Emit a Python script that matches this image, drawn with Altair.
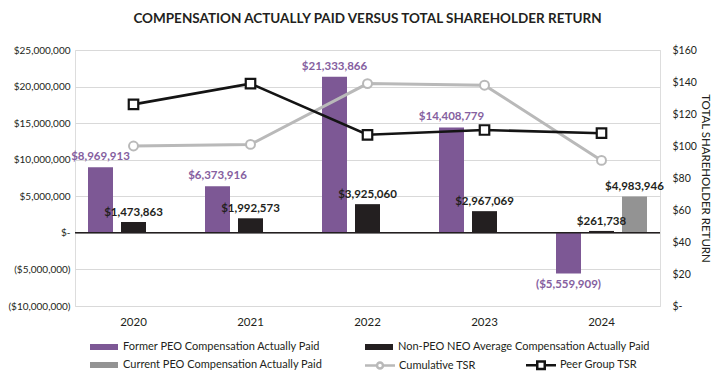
import altair as alt
import pandas as pd

# ---------------- data ----------------
years = ["2020", "2021", "2022", "2023", "2024"]
former_peo = [8969913, 6373916, 21333866, 14408779, -5559909]
non_peo_neo = [1473863, 1992573, 3925060, 2967069, 261738]
current_peo_years = ["2024"]
current_peo = [4983946]
cumulative_tsr = [100, 101, 139, 138, 91]
peer_group_tsr = [126, 139, 107, 110, 108]

S_FORMER = "Former PEO Compensation Actually Paid"
S_NONPEO = "Non-PEO NEO Average Compensation Actually Paid"
S_CURRENT = "Current PEO Compensation Actually Paid"
T_CUM = "Cumulative TSR"
T_PEER = "Peer Group TSR"

bar_series = [S_FORMER, S_NONPEO, S_CURRENT]
tsr_series = [T_CUM, T_PEER]

PURPLE = "#7d5895"
PURPLE_TXT = "#8560a0"
BLACK = "#231f20"
LINE_BLACK = "#141414"
GRAY = "#939393"
LIGHT = "#b9b9b9"
FONT = "Lato"


def money(v):
    s = "${:,}".format(abs(v))
    return f"({s})" if v < 0 else s


rows = []
for y, v in zip(years, former_peo):
    rows.append(dict(year=y, series=S_FORMER, value=v))
for y, v in zip(years, non_peo_neo):
    rows.append(dict(year=y, series=S_NONPEO, value=v))
for y, v in zip(current_peo_years, current_peo):
    rows.append(dict(year=y, series=S_CURRENT, value=v))
bars_df = pd.DataFrame(rows)
bars_df["label"] = bars_df["value"].map(money)

trows = []
for y, v in zip(years, cumulative_tsr):
    trows.append(dict(year=y, tsr=T_CUM, tsr_value=v))
for y, v in zip(years, peer_group_tsr):
    trows.append(dict(year=y, tsr=T_PEER, tsr_value=v))
tsr_df = pd.DataFrame(trows)

zero_df = pd.DataFrame({"value": [0]})

# ---------------- encodings ----------------
x_enc = alt.X(
    "year:N",
    scale=alt.Scale(domain=years, paddingInner=0, paddingOuter=0),
    axis=alt.Axis(title=None, domain=False, ticks=False, labelAngle=0,
                  labelPadding=10, labelFontSize=11.5, labelColor=BLACK,
                  labelFont=FONT),
)
xoff_enc = alt.XOffset(
    "series:N",
    scale=alt.Scale(domain=bar_series, paddingInner=0.2424, paddingOuter=0.394),
)
y_left = alt.Y(
    "value:Q",
    scale=alt.Scale(domain=[-10000000, 25000000], nice=False),
    axis=alt.Axis(
        title=None,
        values=list(range(-10000000, 25000001, 5000000)),
        labelExpr="datum.value == 0 ? '$-' : (datum.value < 0 ? '($' + format(-datum.value, ',') + ')' : '$' + format(datum.value, ','))",
        grid=True, gridColor="#d9d9d9", gridWidth=1,
        domain=False, ticks=False, labelPadding=5, labelOverlap=False,
        labelFontSize=10, labelColor=BLACK, labelFont=FONT,
    ),
)

bar_path = "M-1.4,-0.3H1.4V0.3H-1.4Z"

bars = alt.Chart(bars_df).mark_bar(opacity=1).encode(
    x=x_enc,
    xOffset=xoff_enc,
    y=y_left,
    fill=alt.Fill(
        "series:N",
        scale=alt.Scale(domain=bar_series, range=[PURPLE, BLACK, GRAY]),
        legend=alt.Legend(
            title=None, orient="none", legendX=18, legendY=286,
            direction="horizontal", columns=2, columnPadding=42, rowPadding=2,
            padding=0, labelLimit=0,
            symbolType=bar_path, symbolSize=400, labelOffset=8,
            labelFont=FONT, labelFontSize=11, labelColor=BLACK,
        ),
    ),
)

zero_rule = alt.Chart(zero_df).mark_rule(color=BLACK, strokeWidth=1.5).encode(y=y_left)

lbl_common = dict(font=FONT, fontSize=11.5, fontWeight="bold")

lbl_former_pos = alt.Chart(bars_df).transform_filter(
    f"datum.series == '{S_FORMER}' && datum.value >= 0"
).mark_text(baseline="bottom", dy=-5, color=PURPLE_TXT, **lbl_common).encode(
    x=x_enc, xOffset=xoff_enc, y=y_left, text="label:N"
)
lbl_former_neg = alt.Chart(bars_df).transform_filter(
    f"datum.series == '{S_FORMER}' && datum.value < 0"
).mark_text(baseline="top", dy=5, color=PURPLE_TXT, **lbl_common).encode(
    x=x_enc, xOffset=xoff_enc, y=y_left, text="label:N"
)
lbl_black = alt.Chart(bars_df).transform_filter(
    f"datum.series != '{S_FORMER}'"
).mark_text(baseline="bottom", dy=-4, color=BLACK, **lbl_common).encode(
    x=x_enc, xOffset=xoff_enc, y=y_left, text="label:N"
)

left = alt.layer(bars, zero_rule, lbl_former_pos, lbl_former_neg, lbl_black)

y_right = alt.Y(
    "tsr_value:Q",
    scale=alt.Scale(domain=[0, 160], nice=False),
    axis=alt.Axis(
        orient="right",
        title="TOTAL SHAREHOLDER RETURN",
        titleAngle=90, titleFontWeight="normal", titleFontSize=11.5,
        titleFont=FONT, titleColor=BLACK, titlePadding=3,
        values=list(range(0, 161, 20)),
        labelExpr="datum.value == 0 ? '$-' : '$' + datum.value",
        grid=False, domain=False, ticks=False, labelPadding=12,
        labelFontSize=10.5, labelColor=BLACK, labelFont=FONT,
    ),
)

line_cum = alt.Chart(tsr_df).transform_filter(f"datum.tsr == '{T_CUM}'").mark_line(
    strokeWidth=3, color=LIGHT
).encode(x=x_enc, y=y_right)
line_peer = alt.Chart(tsr_df).transform_filter(f"datum.tsr == '{T_PEER}'").mark_line(
    strokeWidth=2.6, color=LINE_BLACK
).encode(x=x_enc, y=y_right)
pts_cum = alt.Chart(tsr_df).transform_filter(f"datum.tsr == '{T_CUM}'").mark_point(
    shape="circle", filled=True, fill="white", stroke=LIGHT, strokeWidth=2, size=80, opacity=1
).encode(x=x_enc, y=y_right)
pts_peer = alt.Chart(tsr_df).transform_filter(f"datum.tsr == '{T_PEER}'").mark_point(
    shape="square", filled=True, fill="white", stroke=LINE_BLACK, strokeWidth=2.2, size=90, opacity=1
).encode(x=x_enc, y=y_right)

path_cum = "M-2,0H-0.4M0.4,0H2M-0.4,0A0.4,0.4,0,1,1,0.4,0A0.4,0.4,0,1,1,-0.4,0Z"
path_peer = "M-2,0H-0.5M0.5,0H2M-0.5,-0.5H0.5V0.5H-0.5Z"
leg_common = dict(
    title=None, orient="none", legendX=296, legendY=306, direction="horizontal",
    columns=2, columnPadding=45, padding=0, symbolSize=225, labelOffset=10,
    symbolStrokeWidth=2.5, symbolOpacity=1, labelLimit=0,
    labelFont=FONT, labelFontSize=11, labelColor=BLACK,
)
legend_layer = alt.Chart(tsr_df).mark_point(
    filled=False, strokeWidth=2.5, opacity=0, size=0
).encode(
    x=x_enc,
    y=y_right,
    color=alt.Color("tsr:N", scale=alt.Scale(domain=tsr_series, range=[LIGHT, LINE_BLACK]),
                    legend=alt.Legend(**leg_common)),
    shape=alt.Shape("tsr:N", scale=alt.Scale(domain=tsr_series, range=[path_cum, path_peer]),
                    legend=alt.Legend(**leg_common)),
)

right = alt.layer(line_cum, line_peer, pts_cum, pts_peer, legend_layer)

chart = alt.layer(left, right).resolve_scale(y="independent").properties(
    width=585,
    height=256,
    padding={"left": 67, "top": 42, "right": 60, "bottom": 68},
    autosize=alt.AutoSizeParams(type="none"),
    title=alt.TitleParams(
        "COMPENSATION ACTUALLY PAID VERSUS TOTAL SHAREHOLDER RETURN",
        font=FONT, fontSize=13.5, fontWeight="bold", color=BLACK,
        anchor="middle", offset=20,
    ),
).configure_view(stroke=None).configure(background="white")

chart.save("out.html", embed_options={"renderer": "svg", "actions": False})
